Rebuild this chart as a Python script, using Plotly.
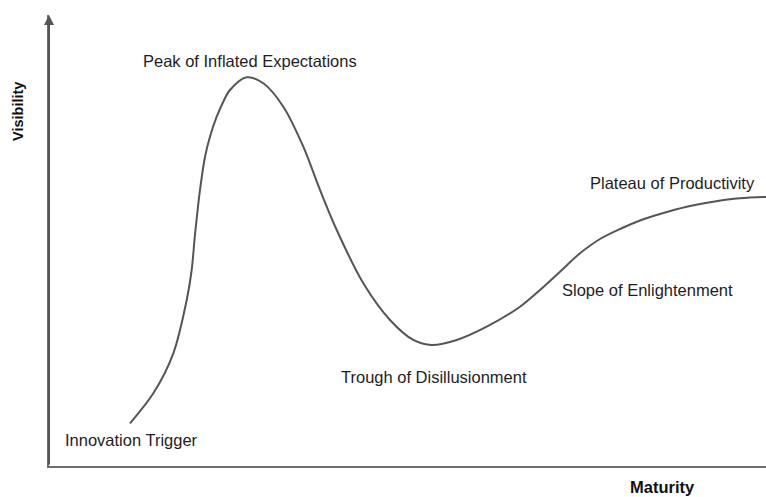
import plotly.graph_objects as go

# Hype cycle curve (maturity 0-100, visibility 0-100)
maturity = [11.30, 14.55, 17.34, 19.21, 19.90, 20.36, 21.06, 21.76, 22.45, 23.39,
            24.31, 25.24, 27.57, 29.89, 32.68, 35.47, 37.80, 40.13, 43.84, 47.56,
            50.81, 53.38, 56.86, 61.05, 65.69, 68.48, 71.27, 74.06, 76.85, 79.64,
            82.43, 85.22, 88.94, 92.65, 96.37, 100.0]
visibility = [9.47, 16.12, 24.99, 36.81, 43.46, 51.22, 61.20, 68.58, 73.02, 77.45,
              80.78, 83.37, 86.19, 84.86, 79.67, 70.80, 61.20, 52.33, 40.51, 32.37,
              27.94, 26.83, 27.94, 30.89, 35.32, 39.02, 43.08, 47.16, 50.33, 52.55,
              54.43, 55.88, 57.49, 58.60, 59.36, 59.65]

stage_names = ["Innovation Trigger", "Peak of Inflated Expectations",
               "Trough of Disillusionment", "Slope of Enlightenment",
               "Plateau of Productivity"]
x_title = "Maturity"
y_title = "Visibility"

# label placement (layout only)
label_x = [1.95, 28.03, 53.72, 71.27, 75.17]
label_y = [5.76, 89.87, 19.80, 39.02, 62.82]
label_anchor = ["left", "center", "center", "left", "left"]

font_family = "Liberation Sans, Arial, sans-serif"
axis_color = "#6e6e6e"

fig = go.Figure()
fig.add_trace(go.Scatter(
    x=maturity, y=visibility, mode="lines",
    line=dict(color="#555555", width=2, shape="spline", smoothing=0.9),
    hoverinfo="skip", showlegend=False))

annotations = []
for name, lx, ly, anc in zip(stage_names, label_x, label_y, label_anchor):
    annotations.append(dict(x=lx, y=ly, xref="x", yref="y", text=name,
                            showarrow=False, xanchor=anc, yanchor="middle",
                            font=dict(family=font_family, size=16.5, color="#1e1e1e")))

pw, ph = 766 - 49, 497 - 15 - 31
# y axis arrow
annotations.append(dict(x=0, y=1, xref="paper", yref="paper", ax=0, ay=ph,
                        axref="pixel", ayref="pixel", text="", showarrow=True,
                        arrowhead=2, arrowsize=1, arrowwidth=2, arrowcolor="#555555"))
# axis titles (pixel positions converted to paper coordinates)
annotations.append(dict(x=(18 - 49) / pw, y=(497 - 31 - 112) / ph, xref="paper", yref="paper",
                        xanchor="center", yanchor="middle",
                        text="<b>%s</b>" % y_title, showarrow=False, textangle=-90,
                        font=dict(family=font_family, size=14.5, color="#111111")))
annotations.append(dict(x=(662 - 49) / pw, y=-31 / ph, xref="paper", yref="paper",
                        xanchor="center", yanchor="bottom", borderpad=0,
                        text="<b>%s</b>" % x_title, showarrow=False,
                        font=dict(family=font_family, size=16.5, color="#111111")))

fig.update_layout(
    width=766, height=497,
    margin=dict(l=49, r=0, t=15, b=31),
    paper_bgcolor="white", plot_bgcolor="white",
    xaxis=dict(range=[0, 100], showgrid=False, zeroline=False, showticklabels=False,
               ticks="", showline=True, linecolor=axis_color, linewidth=2, fixedrange=True),
    yaxis=dict(range=[0, 100], showgrid=False, zeroline=False, showticklabels=False,
               ticks="", showline=True, linecolor=axis_color, linewidth=2, fixedrange=True),
    annotations=annotations,
)

fig.write_html("out.html", config={"displayModeBar": False},
               post_script="document.body.style.margin='0';")
